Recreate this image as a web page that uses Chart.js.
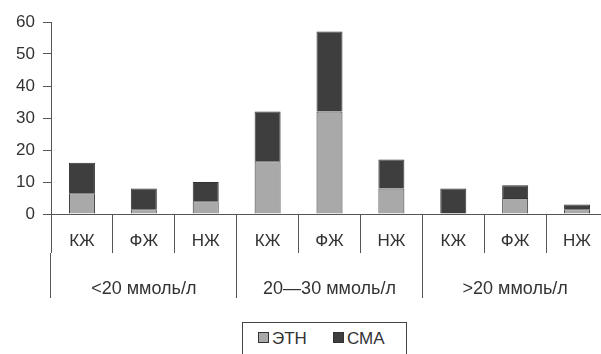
<!DOCTYPE html>
<html>
<head>
<meta charset="utf-8">
<script src="https://cdn.jsdelivr.net/npm/chart.js@4"></script>
<style>
    html, body { margin: 0; padding: 0; background: #fff; overflow: hidden; }
    #wrap { position: relative; width: 608px; height: 354px; }
    #legend {
        position: absolute; left: 242px; top: 322px; width: 165px; height: 40px;
        box-sizing: border-box; border: 1px solid #444; background: #fff;
        font: 17px "Liberation Sans", Arial, sans-serif; color: #333;
        display: flex; gap: 26px; padding: 6px 0 0 15px;
    }
    #legend span.box { display: inline-block; width: 9px; height: 9px; border: 1px solid #333; margin-right: 3px; vertical-align: 1px; }
</style>
</head>
<body>
<div id="wrap">
    <canvas id="chart"></canvas>
    <div id="legend"></div>
</div>
<script>
// Data
const groups = ['<20 ммоль/л', '20—30 ммоль/л', '>20 ммоль/л'];
const subgroups = ['КЖ', 'ФЖ', 'НЖ'];
const categories = groups.flatMap(() => subgroups);
const ethValues = [6.5, 1.5, 4, 16.5, 32, 8, 0, 5, 1.5];
const smaValues = [9.5, 6.5, 6, 15.5, 25, 9, 8, 4, 1.5];
const seriesNames = ['ЭТН', 'СМА'];
const seriesColors = ['#a9a9a9', '#3e3e3e'];

const font = { family: '"Liberation Sans", Arial, sans-serif', size: 17 };
const groupFont = { family: '"Liberation Sans", Arial, sans-serif', size: 18 };
const lineColor = '#555';

new Chart(document.getElementById('chart'), {
    type: 'bar',
    data: {
        labels: categories,
        datasets: [
            { label: seriesNames[0], data: ethValues, backgroundColor: seriesColors[0] },
            { label: seriesNames[1], data: smaValues, backgroundColor: seriesColors[1] }
        ].map(d => Object.assign(d, { borderColor: '#333', borderWidth: 1, barPercentage: 0.42, categoryPercentage: 1 }))
    },
    options: {
        responsive: true,
        maintainAspectRatio: false,
        animation: false,
        layout: { padding: { top: 22, right: 0, bottom: 51, left: 0 } },
        plugins: { legend: { display: false }, tooltip: { enabled: false } },
        scales: {
            x: {
                stacked: true,
                grid: { offset: true, drawOnChartArea: false, tickLength: 39, color: lineColor },
                border: { color: lineColor },
                ticks: { font: font, color: '#333', padding: -22 },
                afterFit: s => { s.height = 39; }
            },
            x2: {
                type: 'category',
                labels: groups,
                position: 'bottom',
                grid: { offset: true, drawOnChartArea: false, tickLength: 45, color: lineColor },
                border: { display: false },
                ticks: { font: groupFont, color: '#333', padding: -20 },
                afterFit: s => { s.height = 50; }
            },
            y: {
                stacked: true,
                min: 0, max: 60,
                grid: { drawOnChartArea: false, tickLength: 8, color: lineColor },
                border: { color: lineColor },
                ticks: { stepSize: 10, font: font, color: '#333', padding: 8 },
                afterFit: s => { s.width = 51; }
            }
        }
    }
});

document.getElementById('legend').innerHTML = seriesNames.map((n, i) =>
    `<div><span class="box" style="background:${seriesColors[i]}"></span>${n}</div>`).join('');
</script>
</body>
</html>
